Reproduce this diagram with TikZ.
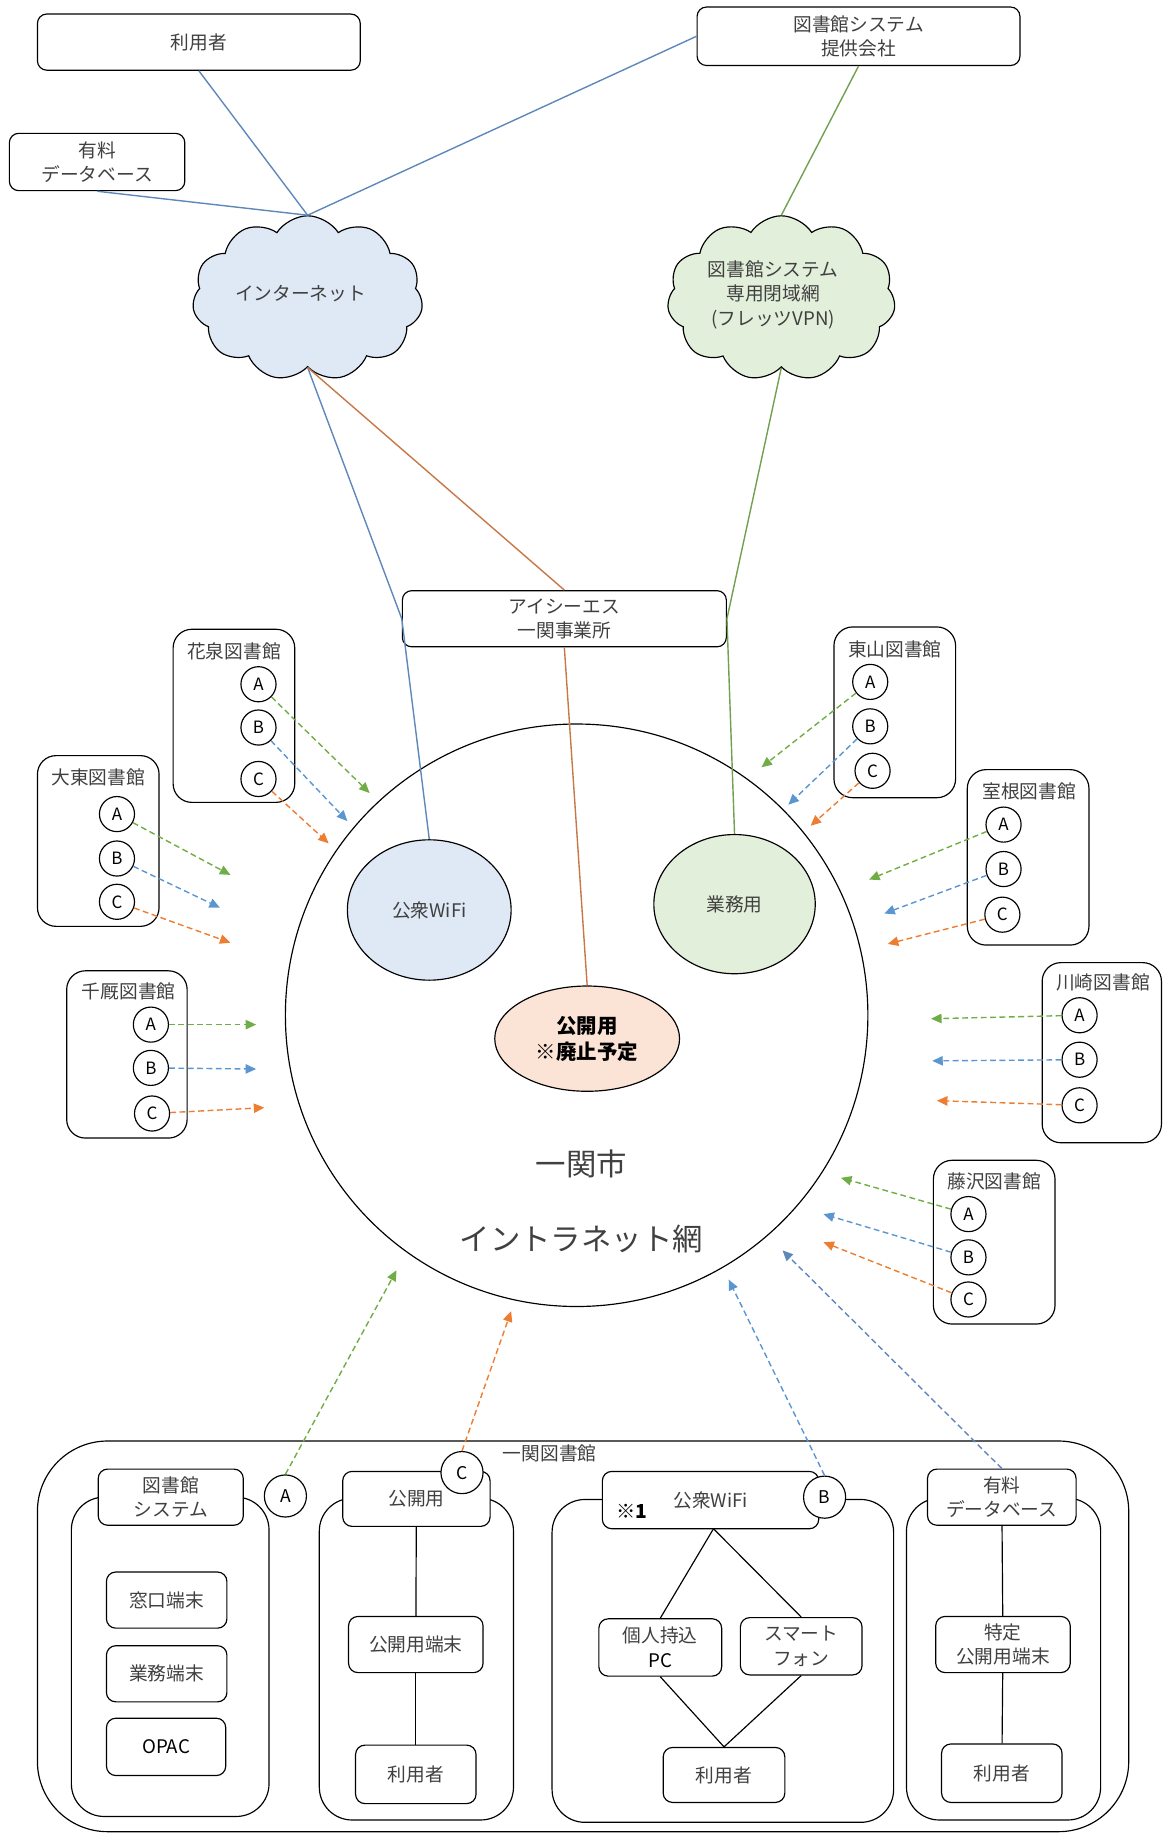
\documentclass[tikz,border=0pt]{standalone}
\usepackage{fontspec}
\setmainfont{Noto Sans CJK JP}
\usetikzlibrary{shapes.symbols,shapes.geometric,arrows.meta}
\definecolor{txt}{RGB}{64,64,64}
\definecolor{lblue}{RGB}{94,136,186}
\definecolor{lorange}{RGB}{200,120,70}
\definecolor{lgreen}{RGB}{112,160,80}
\definecolor{ablue}{RGB}{91,150,208}
\definecolor{aorange}{RGB}{237,125,49}
\definecolor{agreen}{RGB}{112,173,71}
\definecolor{fblue}{RGB}{222,233,245}
\definecolor{fgreen}{RGB}{226,239,218}
\definecolor{fpeach}{RGB}{251,228,213}
\tikzset{
  every node/.style={text=txt, font=\fontsize{16}{21}\selectfont, inner sep=0pt},
  rbox/.style={draw, line width=1pt, rounded corners=8, fill=white, align=center},
  libbox/.style={draw, line width=1pt, rounded corners=16},
  grpbox/.style={draw, line width=1pt, rounded corners=28},
  abc/.style={draw, circle, line width=1pt, fill=white, minimum size=30, text=black, font=\fontsize{14.5}{16}\selectfont},
  abcbig/.style={abc, minimum size=36, font=\fontsize{15}{16}\selectfont},
  cloudn/.style={draw, cloud, cloud puffs=11, cloud puff arc=115, aspect=1.4, line width=1pt},
  ell/.style={draw, ellipse, line width=1pt},
  conn/.style={line width=1.2pt},
  darr/.style={line width=1.2pt, dash pattern=on 5pt off 3pt, -{Triangle[length=9pt,width=8pt]}},
  gA/.style={darr, agreen},
  gB/.style={darr, ablue},
  gC/.style={darr, aorange},
}
\begin{document}
\begin{tikzpicture}[x=1pt,y=-1pt]
\useasboundingbox (0,0) rectangle (995,1568);

% ---------- top ----------
\node[rbox, minimum width=276, minimum height=48] (user) at (170,36) {利用者};
\node[rbox, minimum width=276, minimum height=50] (prov) at (734,31) {図書館システム\\提供会社};
\node[rbox, minimum width=150, minimum height=49] (yuryo) at (83,138.5) {有料\\データベース};
\node[cloudn, fill=fblue, minimum width=197, minimum height=141] (inet) at (263,255) {};
\node (inetT) at (257,251) {インターネット};
\node[cloudn, fill=fgreen, minimum width=195, minimum height=141] (vpn) at (668,255) {};
\node[align=center] (vpnT) at (661,252) {図書館システム\\専用閉域網\\(フレッツVPN)};

% main circle
\node[draw, circle, line width=1pt, minimum size=498] (city) at (493,868) {};
\node[font=\fontsize{26}{30}\selectfont] (cityT1) at (497,995) {一関市};
\node[font=\fontsize{26}{30}\selectfont] (cityT2) at (497,1059) {イントラネット網};

\node[ell, fill=fblue, minimum width=140, minimum height=120] (wifi) at (367,778) {公衆WiFi};
\node[ell, fill=fgreen, minimum width=138, minimum height=119] (gyomu) at (628,773) {業務用};
\node[ell, fill=fpeach, minimum width=158, minimum height=90, align=center, text=black, font=\fontsize{17.5}{22}\selectfont\bfseries] (kokai) at (502,888) {公開用\\※廃止予定};

\node[rbox, minimum width=277, minimum height=48] (ics) at (482.5,529) {アイシーエス\\一関事業所};

% connectors
\draw[conn, lblue] (user.south) -- (inet.north);
\draw[conn, lblue] (yuryo.south) -- (inet.north);
\draw[conn, lblue] (prov.west) -- (inet.north);
\draw[conn, lgreen] (prov.south) -- (vpn.north);
\draw[conn, lblue] (inet.south) -- (ics.west) -- (wifi.north);
\draw[conn, lorange] (inet.south) -- (ics.north);
\draw[conn, lorange] (ics.south) -- (kokai.north);
\draw[conn, lgreen] (vpn.south) -- (ics.east) -- (gyomu.north);

% ---------- branch libraries ----------
% 花泉
\node[libbox, minimum width=104, minimum height=148] (hana) at (200,612) {};
\node (hanaT) at (200,557) {花泉図書館};
\node[abc] (hA) at (221,585) {A};
\node[abc] (hB) at (221,622) {B};
\node[abc] (hC) at (221,666) {C};
\coordinate (hAt) at (316,678);
\coordinate (hBt) at (297,702);
\coordinate (hCt) at (281,721);
\draw[gA] (hA) -- (hAt);
\draw[gB] (hB) -- (hBt);
\draw[gC] (hC) -- (hCt);

% 大東
\node[libbox, minimum width=104, minimum height=146] (dait) at (84,719) {};
\node (daitT) at (84,665) {大東図書館};
\node[abc] (dA) at (100,696) {A};
\node[abc] (dB) at (100,734) {B};
\node[abc] (dC) at (100,771) {C};
\coordinate (dAt) at (197,748);
\coordinate (dBt) at (188,776);
\coordinate (dCt) at (197,806);
\draw[gA] (dA) -- (dAt);
\draw[gB] (dB) -- (dBt);
\draw[gC] (dC) -- (dCt);

% 千厩
\node[libbox, minimum width=103, minimum height=143] (senm) at (108.5,901.5) {};
\node (senmT) at (110,848) {千厩図書館};
\node[abc] (sA) at (129,876) {A};
\node[abc] (sB) at (129,913) {B};
\node[abc] (sC) at (130,952) {C};
\coordinate (sAt) at (219,876);
\coordinate (sBt) at (219,914);
\coordinate (sCt) at (226,947);
\draw[gA] (sA) -- (sAt);
\draw[gB] (sB) -- (sBt);
\draw[gC] (sC) -- (sCt);

% 東山
\node[libbox, minimum width=104, minimum height=146] (higa) at (765,609) {};
\node (higaT) at (765,555) {東山図書館};
\node[abc] (eA) at (744,583) {A};
\node[abc] (eB) at (744,621) {B};
\node[abc] (eC) at (746,659) {C};
\coordinate (eAt) at (651,656);
\coordinate (eBt) at (674,688);
\coordinate (eCt) at (693,706);
\draw[gA] (eA) -- (eAt);
\draw[gB] (eB) -- (eBt);
\draw[gC] (eC) -- (eCt);

% 室根
\node[libbox, minimum width=104, minimum height=150] (muro) at (879,733) {};
\node (muroT) at (880,677) {室根図書館};
\node[abc] (mA) at (858,705) {A};
\node[abc] (mB) at (858,743) {B};
\node[abc] (mC) at (857,782) {C};
\coordinate (mAt) at (743,752);
\coordinate (mBt) at (756,781);
\coordinate (mCt) at (759,807);
\draw[gA] (mA) -- (mAt);
\draw[gB] (mB) -- (mBt);
\draw[gC] (mC) -- (mCt);

% 川崎
\node[libbox, minimum width=102, minimum height=154] (kawa) at (942,900) {};
\node (kawaT) at (943,840) {川崎図書館};
\node[abc] (kA) at (923,868) {A};
\node[abc] (kB) at (923,906) {B};
\node[abc] (kC) at (923,945) {C};
\coordinate (kAt) at (796,871);
\coordinate (kBt) at (797,907);
\coordinate (kCt) at (801,941);
\draw[gA] (kA) -- (kAt);
\draw[gB] (kB) -- (kBt);
\draw[gC] (kC) -- (kCt);

% 藤沢
\node[libbox, minimum width=104, minimum height=140] (fuji) at (850,1062) {};
\node (fujiT) at (850,1010) {藤沢図書館};
\node[abc] (fA) at (828,1038) {A};
\node[abc] (fB) at (828,1075) {B};
\node[abc] (fC) at (828,1111) {C};
\coordinate (fAt) at (719,1007);
\coordinate (fBt) at (704,1038);
\coordinate (fCt) at (704,1062);
\draw[gA] (fA) -- (fAt);
\draw[gB] (fB) -- (fBt);
\draw[gC] (fC) -- (fCt);

% ---------- 一関図書館 ----------
\node[draw, line width=1pt, rounded corners=60, minimum width=933, minimum height=334] (ichi) at (498.5,1399) {};
\node (ichiT) at (470,1243) {一関図書館};

% group 1
\node[grpbox, minimum width=169, minimum height=273] (g1) at (145.5,1416.5) {};
\node[rbox, minimum width=124, minimum height=48] (g1top) at (146,1280) {図書館\\システム};
\node[rbox, minimum width=103, minimum height=48] (mado) at (142.5,1368) {窓口端末};
\node[rbox, minimum width=103, minimum height=48] (gyot) at (142.5,1431) {業務端末};
\node[rbox, minimum width=102, minimum height=49, text=black] (opac) at (142,1493.5) {OPAC};

% group 2
\node[grpbox, minimum width=166, minimum height=275] (g2) at (356,1418.5) {};
\node[rbox, minimum width=126, minimum height=47] (g2top) at (356,1281.5) {公開用};
\node[rbox, minimum width=115, minimum height=48] (kterm) at (355.5,1406) {公開用端末};
\node[rbox, minimum width=103, minimum height=50] (g2user) at (355.5,1517) {利用者};
\draw[line width=1pt] (g2top) -- (kterm);
\draw[line width=1pt] (kterm) -- (g2user);

% group 3
\node[grpbox, minimum width=292, minimum height=276] (g3) at (618,1420) {};
\node[rbox, minimum width=185, minimum height=49] (g3top) at (607.5,1282.5) {公衆WiFi};
\node[text=black, font=\fontsize{16.5}{20}\selectfont\bfseries] (note1) at (540,1292) {※1};
\node[rbox, minimum width=105, minimum height=49] (pc) at (564.5,1408.5) {個人持込\\{\color{black}PC}};
\node[rbox, minimum width=104, minimum height=49] (smart) at (685,1407.5) {スマート\\フォン};
\node[rbox, minimum width=104, minimum height=47] (g3user) at (619,1517.5) {利用者};
\coordinate (g3j) at (610,1307);
\draw[line width=1pt] (g3j) -- (pc.north);
\draw[line width=1pt] (g3j) -- (smart.north);
\draw[line width=1pt] (pc.south) -- (g3user.north);
\draw[line width=1pt] (smart.south) -- (g3user.north);

% group 4
\node[grpbox, minimum width=166, minimum height=275] (g4) at (858,1418.5) {};
\node[rbox, minimum width=127, minimum height=48] (g4top) at (856.5,1280) {有料\\データベース};
\node[rbox, minimum width=115, minimum height=48] (tokutei) at (857.5,1406) {特定\\公開用端末};
\node[rbox, minimum width=103, minimum height=50] (g4user) at (856.5,1516) {利用者};
\draw[line width=1pt] (g4top) -- (tokutei);
\draw[line width=1pt] (tokutei) -- (g4user);

% bottom circles
\node[abcbig] (bA) at (244,1279) {A};
\node[abcbig] (bC) at (395,1259) {C};
\node[abcbig] (bB) at (705,1280) {B};
\coordinate (bAt) at (339,1086);
\coordinate (bCt) at (437,1121);
\coordinate (bBt) at (623,1094);
\coordinate (bDt) at (669,1069);
\draw[gA] (bA.north) -- (bAt);
\draw[gC] (bC.north) -- (bCt);
\draw[gB] (bB.north) -- (bBt);
\draw[darr, lblue] (g4top.north) -- (bDt);
\end{tikzpicture}
\end{document}
